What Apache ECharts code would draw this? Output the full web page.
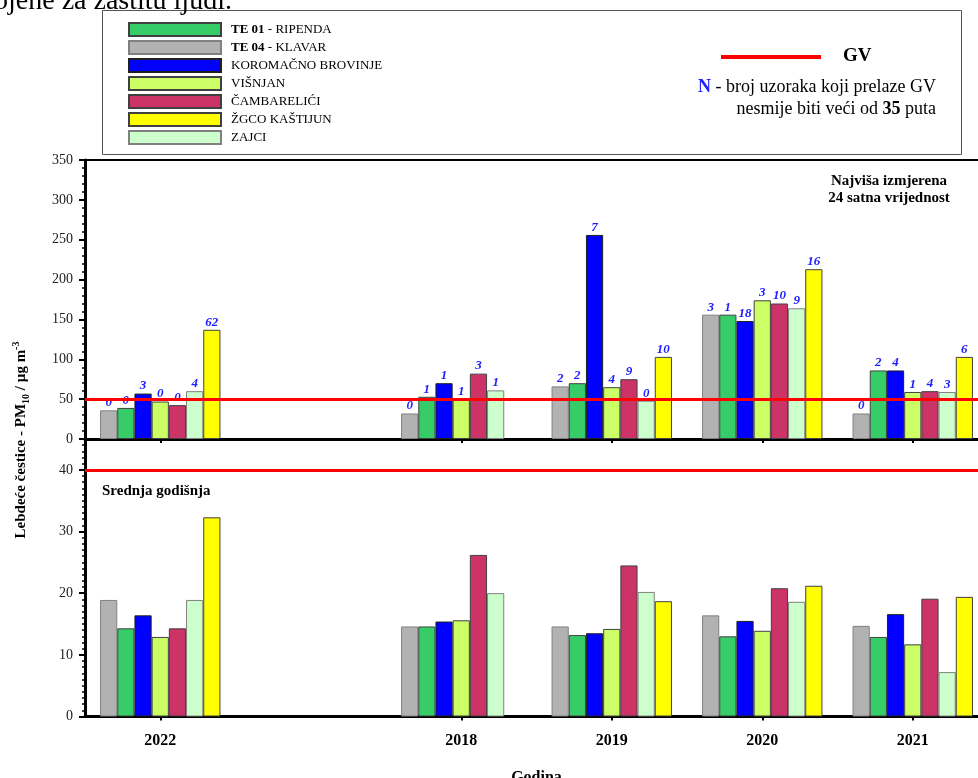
<!DOCTYPE html>
<html>
<head>
<meta charset="utf-8">
<script src="https://cdn.jsdelivr.net/npm/echarts@6/dist/echarts.min.js"></script>
<style>
html, body { margin: 0; padding: 0; background: #fff; overflow: hidden; }
#chart { width: 990px; height: 778px; }
</style>
</head>
<body>
<div id="chart"></div>
<script>
// categories (the blank one is the empty slot between 2022 and 2018)
var years = ['2022', '', '2018', '2019', '2020', '2021'];

// stations, in the order the bars stand inside a group
var stations = ['TE 04 - KLAVAR', 'TE 01 - RIPENDA', 'KOROMAČNO BROVINJE', 'VIŠNJAN', 'ČAMBARELIĆI', 'ZAJCI', 'ŽGCO KAŠTIJUN'];
var legendOrder = ['TE 01 - RIPENDA', 'TE 04 - KLAVAR', 'KOROMAČNO BROVINJE', 'VIŠNJAN', 'ČAMBARELIĆI', 'ŽGCO KAŠTIJUN', 'ZAJCI'];
var colors = ['#b2b2b2', '#36cd69', '#0000ff', '#ccff66', '#cc3366', '#ccffcc', '#ffff00'];
var borders = ['#808080', '#404040', '#202020', '#404040', '#404040', '#808080', '#404040'];

// najviša izmjerena 24-satna vrijednost (µg/m3)
var max_klavar   = [36,   null, 32,   66,  156, 32];
var max_ripenda  = [39,   null, 53,   70,  156, 86];
var max_brovinje = [57,   null, 70,   256, 148, 86];
var max_visnjan  = [47,   null, 50,   65,  174, 59];
var max_cambar   = [42.5, null, 82,   75,  170, 60];
var max_zajci    = [60,   null, 61,   48,  164, 59];
var max_kastijun = [137,  null, null, 103, 213, 103];

// N - broj uzoraka iznad GV
var n_klavar   = [0,  null, 0,    2,  3,  0];
var n_ripenda  = [0,  null, 1,    2,  1,  2];
var n_brovinje = [3,  null, 1,    7,  18, 4];
var n_visnjan  = [0,  null, 1,    4,  3,  1];
var n_cambar   = [0,  null, 3,    9,  10, 4];
var n_zajci    = [4,  null, 1,    0,  9,  3];
var n_kastijun = [62, null, null, 10, 16, 6];

// srednja godišnja vrijednost (µg/m3)
var mean_klavar   = [18.9, null, 14.6, 14.6, 16.4, 14.7];
var mean_ripenda  = [14.3, null, 14.6, 13.2, 13.0, 12.9];
var mean_brovinje = [16.4, null, 15.4, 13.5, 15.5, 16.6];
var mean_visnjan  = [12.9, null, 15.6, 14.2, 13.9, 11.7];
var mean_cambar   = [14.3, null, 26.2, 24.5, 20.8, 19.1];
var mean_zajci    = [18.9, null, 20.0, 20.2, 18.6, 7.2];
var mean_kastijun = [32.3, null, null, 18.7, 21.2, 19.4];

var gv24 = 50;
var gvYear = 40;

var maxData = [max_klavar, max_ripenda, max_brovinje, max_visnjan, max_cambar, max_zajci, max_kastijun];
var nData = [n_klavar, n_ripenda, n_brovinje, n_visnjan, n_cambar, n_zajci, n_kastijun];
var meanData = [mean_klavar, mean_ripenda, mean_brovinje, mean_visnjan, mean_cambar, mean_zajci, mean_kastijun];

var serif = '"Liberation Serif", "Times New Roman", serif';
var chart = echarts.init(document.getElementById('chart'));

function gvLine(v) {
    return {
        silent: true,
        symbol: 'none',
        label: { show: false },
        lineStyle: { color: '#ff0000', width: 3, type: 'solid' },
        data: [{ yAxis: v }]
    };
}

var series = [];
stations.forEach(function (name, i) {
    var s = {
        name: name,
        type: 'bar',
        xAxisIndex: 0,
        yAxisIndex: 0,
        barGap: '0%',
        barCategoryGap: '20%',
        data: maxData[i],
        itemStyle: { color: colors[i], borderColor: borders[i], borderWidth: 1 },
        label: {
            show: true,
            position: 'top',
            distance: 1,
            color: '#2020ff',
            fontFamily: serif,
            fontStyle: 'italic',
            fontWeight: 'bold',
            fontSize: 13,
            formatter: function (p) {
                var v = nData[i][p.dataIndex];
                return v == null ? '' : String(v);
            }
        },
        animation: false
    };
    if (i === 0) s.markLine = gvLine(gv24);
    series.push(s);
});
stations.forEach(function (name, i) {
    var s = {
        name: name,
        type: 'bar',
        xAxisIndex: 1,
        yAxisIndex: 1,
        barGap: '0%',
        barCategoryGap: '20%',
        data: meanData[i],
        itemStyle: { color: colors[i], borderColor: borders[i], borderWidth: 1 },
        animation: false
    };
    if (i === 0) s.markLine = gvLine(gvYear);
    series.push(s);
});

var yTickCommon = {
    axisLine: { show: true, lineStyle: { color: '#000', width: 3 } },
    axisTick: { show: true, length: 6, lineStyle: { color: '#000', width: 2 } },
    splitLine: { show: false },
    axisLabel: { color: '#222', fontFamily: serif, fontSize: 14, margin: 12 }
};

var xCommon = {
    type: 'category',
    data: years,
    axisLine: { show: true, onZero: false, lineStyle: { color: '#000', width: 3 } },
    axisTick: {
        show: true,
        alignWithLabel: true,
        length: 4,
        lineStyle: { color: '#000', width: 2 },
        interval: function (idx, val) { return val !== ''; }
    },
    splitLine: { show: false }
};

chart.setOption({
    backgroundColor: '#fff',
    animation: false,
    legend: {
        data: legendOrder,
        orient: 'vertical',
        left: 128,
        top: 22,
        padding: 0,
        itemWidth: 92,
        itemHeight: 13,
        itemGap: 3,
        icon: 'rect',
        selectedMode: false,
        textStyle: {
            color: '#000',
            fontFamily: serif,
            fontSize: 13,
            lineHeight: 13,
            padding: [0, 0, 0, 5],
            rich: {
                b: { fontFamily: serif, fontSize: 13, fontWeight: 'bold', color: '#000', lineHeight: 13 }
            }
        },
        formatter: function (name) {
            var k = name.indexOf(' - ');
            return k > 0 ? '{b|' + name.slice(0, k) + '}' + name.slice(k) : name;
        }
    },
    grid: [
        { left: 85, top: 160, width: 903, height: 279, outerBoundsMode: 'none', containLabel: false,
          show: true, borderColor: '#000', borderWidth: 2, backgroundColor: 'transparent' },
        { left: 85, top: 439, width: 903, height: 277.5, outerBoundsMode: 'none', containLabel: false }
    ],
    xAxis: [
        Object.assign({}, xCommon, { gridIndex: 0, axisLabel: { show: false } }),
        Object.assign({}, xCommon, {
            gridIndex: 1,
            axisLabel: { show: true, color: '#000', fontFamily: serif, fontSize: 16, fontWeight: 'bold', margin: 16 },
            name: 'Godina',
            nameLocation: 'middle',
            nameGap: 53,
            nameTextStyle: { color: '#000', fontFamily: serif, fontSize: 16, fontWeight: 'bold' }
        })
    ],
    yAxis: [
        Object.assign({}, yTickCommon, {
            type: 'value', gridIndex: 0, min: 0, max: 350, interval: 50,
            minorTick: { show: true, splitNumber: 5, length: 3, lineStyle: { color: '#000', width: 1.5 } }
        }),
        Object.assign({}, yTickCommon, {
            type: 'value', gridIndex: 1, min: 0, max: 45, interval: 10,
            minorTick: { show: true, splitNumber: 10, length: 3, lineStyle: { color: '#000', width: 1.5 } },
            axisLabel: { color: '#222', fontFamily: serif, fontSize: 14, margin: 12, showMaxLabel: false,
                formatter: function (v) { return v > 40 ? '' : String(v); } }
        })
    ],
    graphic: [
        {
            type: 'text', x: -6, y: 16, silent: true,
            style: { text: 'ojene za zaštitu ljudi.', font: '28px ' + serif, fill: '#000', verticalAlign: 'bottom' }
        },
        {
            type: 'rect', z: -1, silent: true,
            shape: { x: 102.5, y: 10.5, width: 859, height: 144 },
            style: { fill: 'none', stroke: '#555', lineWidth: 1 }
        },
        {
            type: 'line', silent: true,
            shape: { x1: 721, y1: 57, x2: 821, y2: 57 },
            style: { stroke: '#ff0000', lineWidth: 4 }
        },
        {
            type: 'text', x: 843, y: 56, silent: true,
            style: { text: 'GV', font: 'bold 19px ' + serif, fill: '#000', verticalAlign: 'middle' }
        },
        {
            type: 'text', x: 936, y: 87, silent: true,
            style: {
                text: '{n|N} - broj uzoraka koji prelaze GV',
                font: '18px ' + serif, fill: '#000', align: 'right', verticalAlign: 'middle',
                rich: { n: { font: 'bold 18px ' + serif, fill: '#2020ff' } }
            }
        },
        {
            type: 'text', x: 936, y: 109, silent: true,
            style: {
                text: 'nesmije biti veći od {b|35} puta',
                font: '18px ' + serif, fill: '#000', align: 'right', verticalAlign: 'middle',
                rich: { b: { font: 'bold 18px ' + serif, fill: '#000' } }
            }
        },
        {
            type: 'text', x: 889, y: 190, silent: true,
            style: {
                text: 'Najviša izmjerena\n24 satna vrijednost',
                font: 'bold 15px ' + serif, fill: '#000', align: 'center', verticalAlign: 'middle', lineHeight: 17
            }
        },
        {
            type: 'text', x: 102, y: 491, silent: true,
            style: { text: 'Srednja godišnja', font: 'bold 15px ' + serif, fill: '#000', verticalAlign: 'middle' }
        },
        {
            type: 'text', x: 21, y: 440, rotation: Math.PI / 2, silent: true,
            style: {
                text: 'Lebdeće čestice - PM{sub|10} / µg m{sup|-3}',
                font: 'bold 15px ' + serif, fill: '#000', align: 'center', verticalAlign: 'middle', lineHeight: 20,
                rich: {
                    sub: { font: 'bold 10px ' + serif, fill: '#000', lineHeight: 10, verticalAlign: 'bottom' },
                    sup: { font: 'bold 10px ' + serif, fill: '#000', lineHeight: 10, verticalAlign: 'top' }
                }
            }
        }
    ],
    series: series
});
</script>
</body>
</html>
